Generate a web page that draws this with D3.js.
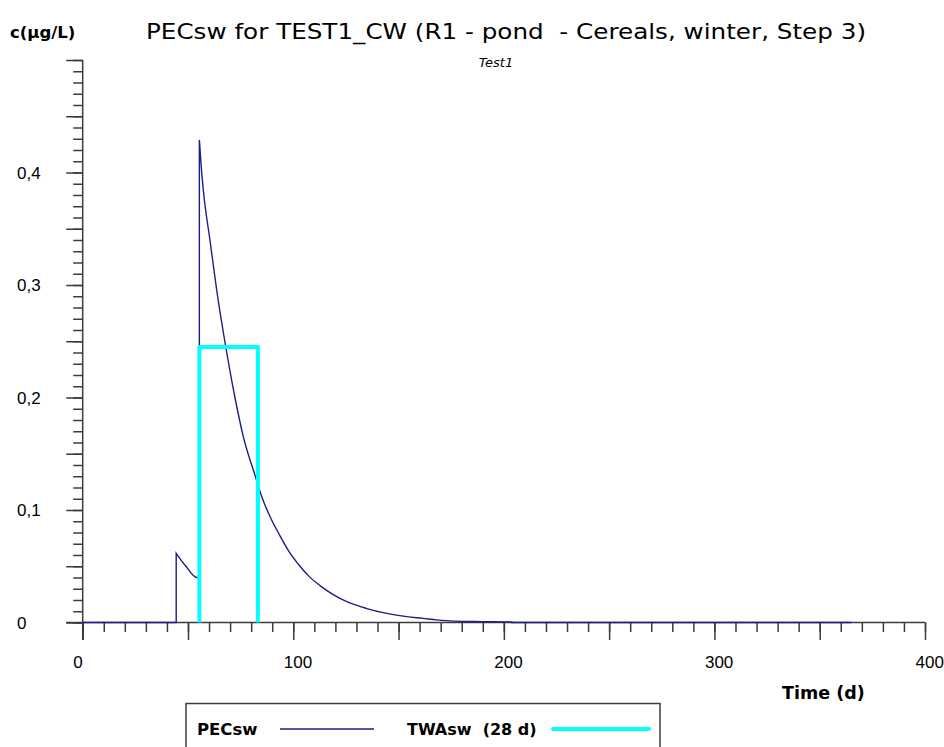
<!DOCTYPE html>
<html>
<head>
<meta charset="utf-8">
<script src="https://cdn.jsdelivr.net/npm/d3@7"></script>
<style>
  html, body { margin: 0; padding: 0; background: #fff; }
  svg { display: block; }
  text { font-family: "DejaVu Sans", sans-serif; fill: #000; white-space: pre; }
  .tick-label { font-family: "Liberation Sans", Arial, sans-serif; }
</style>
</head>
<body>
<svg id="chart" width="944" height="747"></svg>
<script>
// PECsw concentration (µg/L) by day
const pecDays   = [0, 44.4, 44.4, 49.0, 54.2, 55.4, 55.4, 56.3, 57.3, 60.5, 63.6, 68.4, 72.3, 76.3, 81.8, 85.0, 89.0, 93.7, 98.0, 103.2, 107.5, 112.7, 119.0, 125.4, 134.9, 144.4, 153.9, 161.6, 168.0, 176.0, 190.0, 203.8, 203.8, 365];
const pecValues = [0, 0, 0.0615, 0.050, 0.040, 0.040, 0.429, 0.405, 0.384, 0.339, 0.296, 0.240, 0.200, 0.165, 0.131, 0.112, 0.094, 0.077, 0.063, 0.050, 0.041, 0.0328, 0.0248, 0.0185, 0.0124, 0.0081, 0.0052, 0.0037, 0.0023, 0.0012, 0.0008, 0.0005, 0, 0];

// 28-day time-weighted average window
const twaDays   = [55.4, 55.4, 83.2, 83.2];
const twaValues = [0, 0.245, 0.245, 0];

// Axis ticks and labels
const xMajorTicks = [0, 50, 100, 150, 200, 250, 300, 350, 400];
const xLabelValues = [0, 100, 200, 300, 400];
const xLabels = ["0", "100", "200", "300", "400"];
const yMajorTicks = [0, 0.05, 0.1, 0.15, 0.2, 0.25, 0.3, 0.35, 0.4, 0.45, 0.5];
const yLabelValues = [0, 0.1, 0.2, 0.3, 0.4];
const yLabels = ["0", "0,1", "0,2", "0,3", "0,4"];

const svg = d3.select("#chart");
svg.append("rect").attr("width", 944).attr("height", 747).attr("fill", "#fff");

const x = d3.scaleLinear().domain([0, 400]).range([82.7, 925]);
const y = d3.scaleLinear().domain([0, 0.5]).range([622.5, 60]);

const axisColor = "#3c3c3c";
const pecColor = "#1c1c8a";
const twaColor = "#00ffff";

// Y axis: minor ticks every 0.01, major every 0.05
const yMinor = d3.range(0, 51).map(i => i / 100);
const yAxisMinor = d3.axisLeft(y).tickValues(yMinor).tickSize(9.5).tickSizeOuter(0).tickFormat("");
const yAxisMajor = d3.axisLeft(y).tickValues(yMajorTicks).tickSize(16.5).tickSizeOuter(0).tickFormat("");
[yAxisMinor, yAxisMajor].forEach(ax => {
  const g = svg.append("g").attr("transform", `translate(${x(0)},0)`).call(ax);
  g.select(".domain").remove();
  g.selectAll("line").attr("stroke", axisColor).attr("stroke-width", 1.5);
});

// X axis: minor ticks every 10 days, major every 50
const xMinor = d3.range(0, 401, 10);
const xAxisMinor = d3.axisBottom(x).tickValues(xMinor).tickSize(9.5).tickSizeOuter(0).tickFormat("");
const xAxisMajor = d3.axisBottom(x).tickValues(xMajorTicks).tickSize(17.5).tickSizeOuter(0).tickFormat("");
[xAxisMinor, xAxisMajor].forEach(ax => {
  const g = svg.append("g").attr("transform", `translate(0,${y(0)})`).call(ax);
  g.select(".domain").remove();
  g.selectAll("line").attr("stroke", axisColor).attr("stroke-width", 1.5);
});

// Axis lines
svg.append("line").attr("x1", x(0)).attr("x2", x(0)).attr("y1", y(0.5)).attr("y2", y(0) + 17.5)
  .attr("stroke", axisColor).attr("stroke-width", 1.5);
svg.append("line").attr("x1", x(0) - 16.5).attr("x2", x(400)).attr("y1", y(0)).attr("y2", y(0))
  .attr("stroke", axisColor).attr("stroke-width", 1.5);

// Tick labels
svg.append("g").selectAll("text").data(yLabelValues).join("text")
  .attr("class", "tick-label")
  .attr("x", 17).attr("y", d => y(d)).attr("dy", "0.36em")
  .attr("font-size", 17).text((d, i) => yLabels[i]);

svg.append("g").selectAll("text").data(xLabelValues).join("text")
  .attr("class", "tick-label")
  .attr("x", d => x(d) - 9.5).attr("y", 662).attr("dy", "0.36em")
  .attr("font-size", 17).text((d, i) => xLabels[i]);

// Titles
svg.append("text").attr("x", 146).attr("y", 39).attr("font-size", 21)
  .attr("textLength", 720).attr("lengthAdjust", "spacingAndGlyphs")
  .text("PECsw for TEST1_CW (R1 - pond  - Cereals, winter, Step 3)");
svg.append("text").attr("x", 496).attr("y", 67).attr("font-size", 13)
  .attr("font-style", "italic").attr("text-anchor", "middle").text("Test1");
svg.append("text").attr("x", 10).attr("y", 38).attr("font-size", 16.5)
  .attr("font-weight", "bold").text("c(µg/L)");
svg.append("text").attr("x", 782).attr("y", 699).attr("font-size", 17.5)
  .attr("font-weight", "bold").text("Time (d)");

// Series: smooth decay within each run, straight vertical jumps between runs
const pecPoints = pecDays.map((d, i) => [d, pecValues[i]]);
const runs = [[pecPoints[0]]];
for (let i = 1; i < pecPoints.length; i++) {
  if (pecPoints[i][0] === pecPoints[i - 1][0]) runs.push([]);
  runs[runs.length - 1].push(pecPoints[i]);
}
const smooth = d3.line().x(d => x(d[0])).y(d => y(d[1])).curve(d3.curveMonotoneX);
const pecPath = runs.map((r, i) => {
  const d = r.length > 1 ? smooth(r) : `M${x(r[0][0])},${y(r[0][1])}`;
  return i === 0 ? d : "L" + d.slice(1);
}).join("");

svg.append("path").attr("d", pecPath)
  .attr("fill", "none").attr("stroke", pecColor).attr("stroke-width", 1.4);

const line = d3.line().x(d => x(d[0])).y(d => y(d[1]));
const twaPoints = twaDays.map((d, i) => [d, twaValues[i]]);
svg.append("path").datum(twaPoints).attr("d", line)
  .attr("fill", "none").attr("stroke", twaColor).attr("stroke-width", 4)
  .attr("stroke-linejoin", "round");

// Legend
const legend = svg.append("g");
legend.append("rect").attr("x", 186).attr("y", 703.5).attr("width", 474).attr("height", 60)
  .attr("fill", "#fff").attr("stroke", axisColor).attr("stroke-width", 1.5);
legend.append("text").attr("x", 197).attr("y", 729).attr("dy", "0.36em")
  .attr("font-size", 16.5).attr("font-weight", "bold").text("PECsw");
legend.append("line").attr("x1", 280).attr("x2", 374).attr("y1", 729).attr("y2", 729)
  .attr("stroke", pecColor).attr("stroke-width", 1.4);
legend.append("text").attr("x", 407).attr("y", 729).attr("dy", "0.36em")
  .attr("font-size", 16).attr("font-weight", "bold").text("TWAsw  (28 d)");
legend.append("line").attr("x1", 553).attr("x2", 649).attr("y1", 729).attr("y2", 729)
  .attr("stroke", twaColor).attr("stroke-width", 4).attr("stroke-linecap", "round");
</script>
</body>
</html>
